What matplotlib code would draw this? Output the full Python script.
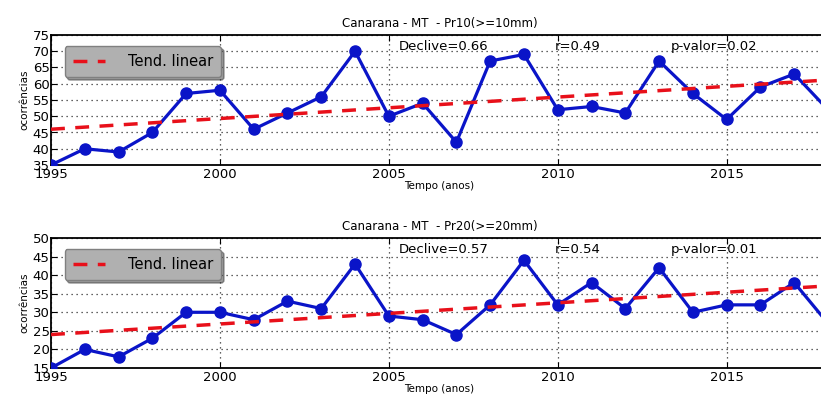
import numpy as np
import matplotlib
matplotlib.use("Agg")
import matplotlib.pyplot as plt

anos = list(range(1995, 2019))
pr10 = [35, 40, 39, 45, 57, 58, 46, 51, 56, 70, 50, 54, 42, 67, 69, 52, 53, 51, 67, 57, 49, 59, 63, 52]
pr20 = [15, 20, 18, 23, 30, 30, 28, 33, 31, 43, 29, 28, 24, 32, 44, 32, 38, 31, 42, 30, 32, 32, 38, 27]

titulos = ["Canarana - MT  - Pr10(>=10mm)", "Canarana - MT  - Pr20(>=20mm)"]
declives = [0.66, 0.57]
inicio_tend = [46.0, 24.0]   # valor da tendencia em 1995
r_vals = [0.49, 0.54]
p_vals = [0.02, 0.01]
ylims = [(35, 75), (15, 50)]

fig = plt.figure(figsize=(8.21, 3.98), dpi=100)
# o grafico original esta cortado na direita
posicoes = [[51 / 821, 1 - 165 / 398, 777 / 821, 130 / 398],
            [51 / 821, 1 - 368 / 398, 777 / 821, 130 / 398]]

for i, serie in enumerate([pr10, pr20]):
    ax = fig.add_axes(posicoes[i])
    x = np.array(anos)
    tend = inicio_tend[i] + declives[i] * (x - 1995)
    ax.plot(x, serie, color='#0a14c8', lw=2.3, marker='o', ms=8, zorder=3)
    ax.plot(x, tend, color='#e8101a', lw=2.5, ls=(0, (4, 3)), label='Tend. linear', zorder=4)
    ax.set_xlim(1995, 2018)
    ax.set_ylim(*ylims[i])
    ax.set_xticks(range(1995, 2019, 5))
    ax.set_yticks(range(ylims[i][0], ylims[i][1] + 1, 5))
    ax.grid(True, color='#303030', ls=(0, (1, 3)), lw=0.9)
    ax.tick_params(direction='in', top=True, right=True, labelsize=9.5, length=4)
    ax.tick_params(axis='x', pad=2)
    ax.tick_params(axis='y', pad=1)
    for s in ax.spines.values():
        s.set_linewidth(1.3)
    ax.set_title(titulos[i], fontsize=8.5, pad=6)
    ax.set_xlabel("Tempo (anos)", fontsize=7.5, labelpad=0)
    ax.set_ylabel("ocorrências", fontsize=7.5, labelpad=2)
    ax.text(0.448, 0.91, "Declive=%.2f" % declives[i], transform=ax.transAxes, fontsize=9.5, va='center')
    ax.text(0.648, 0.91, "r=%.2f" % r_vals[i], transform=ax.transAxes, fontsize=9.5, va='center')
    ax.text(0.798, 0.91, "p-valor=%.2f" % p_vals[i], transform=ax.transAxes, fontsize=9.5, va='center')
    leg = ax.legend(loc='upper left', bbox_to_anchor=(0.008, 0.97), fontsize=10.5, fancybox=True,
                    shadow=True, handlelength=2.2, handletextpad=1.6, borderpad=0.55)
    leg.get_frame().set_facecolor('#b0b0b0')
    leg.get_frame().set_edgecolor('#808080')

fig.savefig("out.png", dpi=100)
